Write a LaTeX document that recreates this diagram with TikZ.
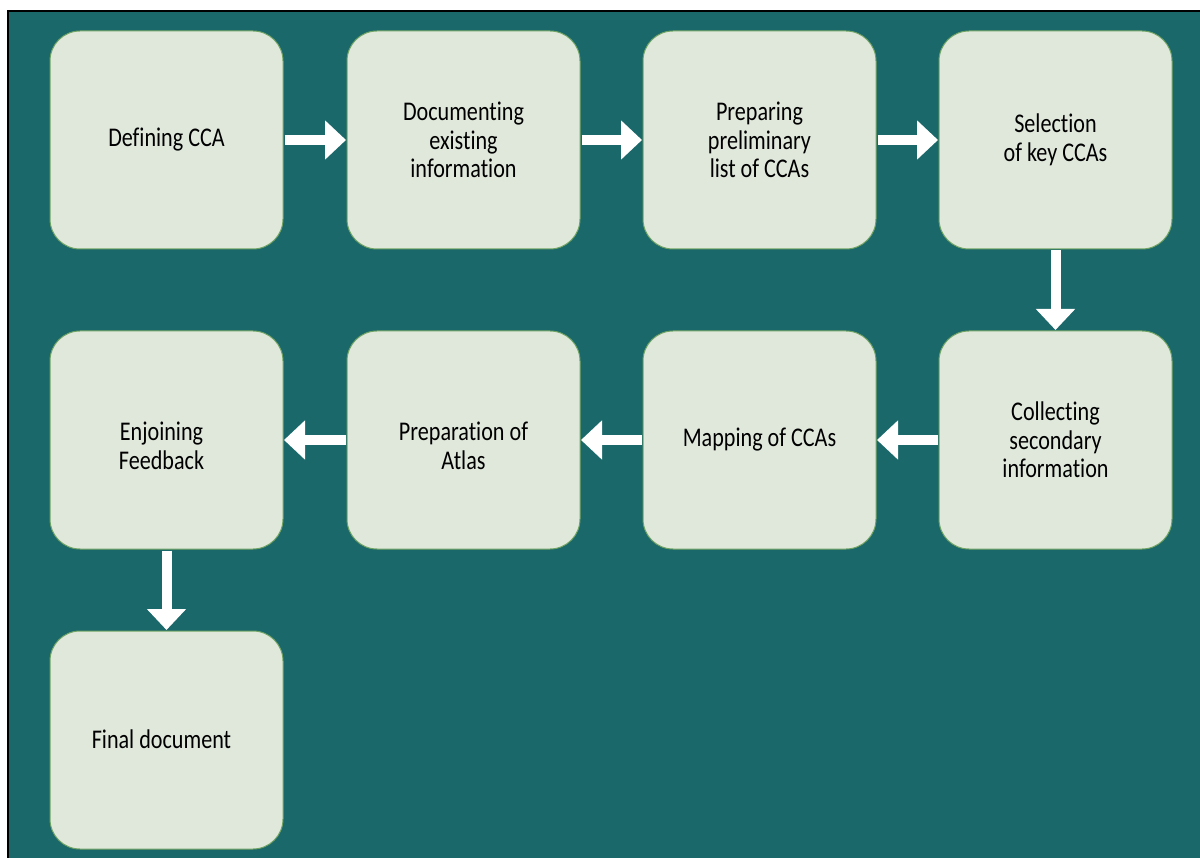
\documentclass[tikz,border=0pt]{standalone}
\usepackage{fontspec}
\setmainfont{Carlito}[FakeStretch=0.82,Ligatures=NoCommon]
\usetikzlibrary{arrows.meta}
\definecolor{bgteal}{HTML}{1B686A}
\definecolor{boxfill}{HTML}{E0E8DC}
\definecolor{boxline}{HTML}{6FA363}
\tikzset{
  stepbox/.style={draw=boxline, line width=1pt, fill=boxfill, rounded corners=30pt,
    minimum width=233pt, minimum height=218pt, inner sep=0pt, align=center,
    font=\fontsize{27}{28.5}\selectfont, text=black},
  steptext/.style={inner sep=0pt, align=center, font=\fontsize{27}{28.5}\selectfont, text=black},
  flow/.style={draw=white, line width=10pt, -{Triangle[width=38pt,length=21pt]}, shorten <=1pt, shorten >=0.5pt}
}
\begin{document}
\begin{tikzpicture}[x=1pt,y=-1pt]
\useasboundingbox (0,0) rectangle (1200,858);
\fill[white] (0,0) rectangle (1200,858);
\fill[bgteal] (8,11) rectangle (1200,858);
\draw[black, line width=1.5pt] (8,858) -- (8,11) -- (1200,11);
\node[stepbox] (b1) at (166.5,140) {Defining CCA};
\node[stepbox] (b2) at (463.5,140) {Documenting\\existing\\information};
\node[stepbox] (b3) at (759.5,140) {Preparing\\preliminary\\list of CCAs};
\node[stepbox] (b4) at (1055.5,140) {Selection\\of key CCAs};
\node[stepbox] (b5) at (1055.5,440) {Collecting\\secondary\\information};
\node[stepbox] (b6) at (759.5,440) {Mapping of CCAs};
\node[stepbox] (b7) at (463.5,440) {};
\node[steptext] (t7) at ([yshift=-6pt]b7.center) {Preparation of\\Atlas};
\node[stepbox] (b8) at (166.5,440) {};
\node[steptext] (t8) at ([xshift=-5pt,yshift=-6pt]b8.center) {Enjoining\\Feedback};
\node[stepbox] (b9) at (166.5,740) {};
\node[steptext] (t9) at ([xshift=-5pt,yshift=1pt]b9.center) {Final document};
\draw[flow] (b1.east) -- (b2.west);
\draw[flow] (b2.east) -- (b3.west);
\draw[flow] (b3.east) -- (b4.west);
\draw[flow] (b4.south) -- (b5.north);
\draw[flow] (b5.west) -- (b6.east);
\draw[flow] (b6.west) -- (b7.east);
\draw[flow] (b7.west) -- (b8.east);
\draw[flow] (b8.south) -- (b9.north);
\end{tikzpicture}
\end{document}
